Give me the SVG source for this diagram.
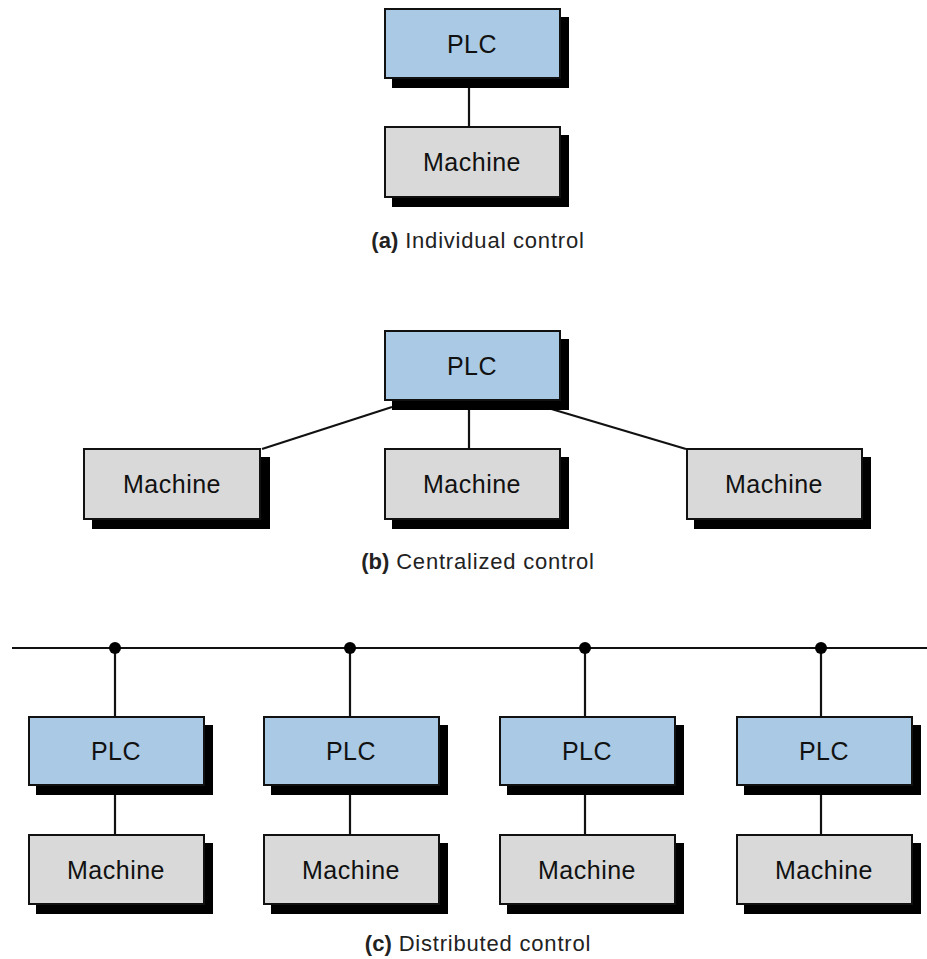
<svg xmlns="http://www.w3.org/2000/svg" width="927" height="959" viewBox="0 0 927 959">
<style>
.sh{fill:#000}
.plc{fill:#a9c9e5;stroke:#111;stroke-width:2}
.mach{fill:#d9d9d9;stroke:#111;stroke-width:2}
.lbl{font-family:"Liberation Sans",Arial,sans-serif;font-size:25px;letter-spacing:0.5px;fill:#111;text-anchor:middle}
.cap{font-family:"Liberation Sans",Arial,sans-serif;font-size:22px;letter-spacing:0.8px;fill:#222;text-anchor:middle}
.cap tspan.b{font-weight:bold;letter-spacing:0}
.ln{stroke:#111;stroke-width:2.2;fill:none}
</style>
<rect width="927" height="959" fill="#fff"/>

<g id="connectors">
  <line class="ln" x1="469" y1="79" x2="469" y2="126"/>
  <line class="ln" x1="469" y1="401" x2="469" y2="448"/>
  <line class="ln" x1="262" y1="449" x2="392" y2="407"/>
  <line class="ln" x1="548" y1="408" x2="686" y2="449"/>
  <line class="ln" x1="12" y1="648" x2="927" y2="648"/>
  <line class="ln" x1="115" y1="648" x2="115" y2="716"/>
  <line class="ln" x1="350" y1="648" x2="350" y2="716"/>
  <line class="ln" x1="585" y1="648" x2="585" y2="716"/>
  <line class="ln" x1="821" y1="648" x2="821" y2="716"/>
  <line class="ln" x1="115" y1="786" x2="115" y2="834"/>
  <line class="ln" x1="350" y1="786" x2="350" y2="834"/>
  <line class="ln" x1="585" y1="786" x2="585" y2="834"/>
  <line class="ln" x1="821" y1="786" x2="821" y2="834"/>
  <circle cx="115" cy="648" r="6" fill="#000"/>
  <circle cx="350" cy="648" r="6" fill="#000"/>
  <circle cx="585" cy="648" r="6" fill="#000"/>
  <circle cx="821" cy="648" r="6" fill="#000"/>
</g>

<!-- (a) -->
<g id="a-plc">
  <rect class="sh" x="392" y="17" width="177" height="71"/>
  <rect class="plc" x="385" y="9" width="175" height="69"/>
  <text class="lbl" x="472" y="53">PLC</text>
</g>
<g id="a-machine">
  <rect class="sh" x="392" y="135" width="177" height="72"/>
  <rect class="mach" x="385" y="127" width="175" height="70"/>
  <text class="lbl" x="472" y="171">Machine</text>
</g>
<text class="cap" x="478" y="248"><tspan class="b">(a)</tspan> Individual control</text>

<!-- (b) -->
<g id="b-plc">
  <rect class="sh" x="392" y="339" width="177" height="71"/>
  <rect class="plc" x="385" y="331" width="175" height="69"/>
  <text class="lbl" x="472" y="375">PLC</text>
</g>
<g id="b-machine1">
  <rect class="sh" x="92" y="457" width="178" height="72"/>
  <rect class="mach" x="84" y="449" width="176" height="70"/>
  <text class="lbl" x="172" y="493">Machine</text>
</g>
<g id="b-machine2">
  <rect class="sh" x="392" y="457" width="177" height="72"/>
  <rect class="mach" x="385" y="449" width="175" height="70"/>
  <text class="lbl" x="472" y="493">Machine</text>
</g>
<g id="b-machine3">
  <rect class="sh" x="694" y="457" width="177" height="72"/>
  <rect class="mach" x="687" y="449" width="175" height="70"/>
  <text class="lbl" x="774" y="493">Machine</text>
</g>
<text class="cap" x="478" y="569"><tspan class="b">(b)</tspan> Centralized control</text>

<!-- (c) -->
<g id="c-plc1">
  <rect class="sh" x="36" y="725" width="177" height="70"/>
  <rect class="plc" x="29" y="717" width="175" height="68"/>
  <text class="lbl" x="116" y="760">PLC</text>
</g>
<g id="c-machine1">
  <rect class="sh" x="36" y="843" width="177" height="71"/>
  <rect class="mach" x="29" y="835" width="175" height="69"/>
  <text class="lbl" x="116" y="879">Machine</text>
</g>
<g id="c-plc2">
  <rect class="sh" x="271" y="725" width="177" height="70"/>
  <rect class="plc" x="264" y="717" width="175" height="68"/>
  <text class="lbl" x="351" y="760">PLC</text>
</g>
<g id="c-machine2">
  <rect class="sh" x="271" y="843" width="177" height="71"/>
  <rect class="mach" x="264" y="835" width="175" height="69"/>
  <text class="lbl" x="351" y="879">Machine</text>
</g>
<g id="c-plc3">
  <rect class="sh" x="507" y="725" width="177" height="70"/>
  <rect class="plc" x="500" y="717" width="175" height="68"/>
  <text class="lbl" x="587" y="760">PLC</text>
</g>
<g id="c-machine3">
  <rect class="sh" x="507" y="843" width="177" height="71"/>
  <rect class="mach" x="500" y="835" width="175" height="69"/>
  <text class="lbl" x="587" y="879">Machine</text>
</g>
<g id="c-plc4">
  <rect class="sh" x="744" y="725" width="177" height="70"/>
  <rect class="plc" x="737" y="717" width="175" height="68"/>
  <text class="lbl" x="824" y="760">PLC</text>
</g>
<g id="c-machine4">
  <rect class="sh" x="744" y="843" width="177" height="71"/>
  <rect class="mach" x="737" y="835" width="175" height="69"/>
  <text class="lbl" x="824" y="879">Machine</text>
</g>
<text class="cap" x="478" y="951"><tspan class="b">(c)</tspan> Distributed control</text>
</svg>
